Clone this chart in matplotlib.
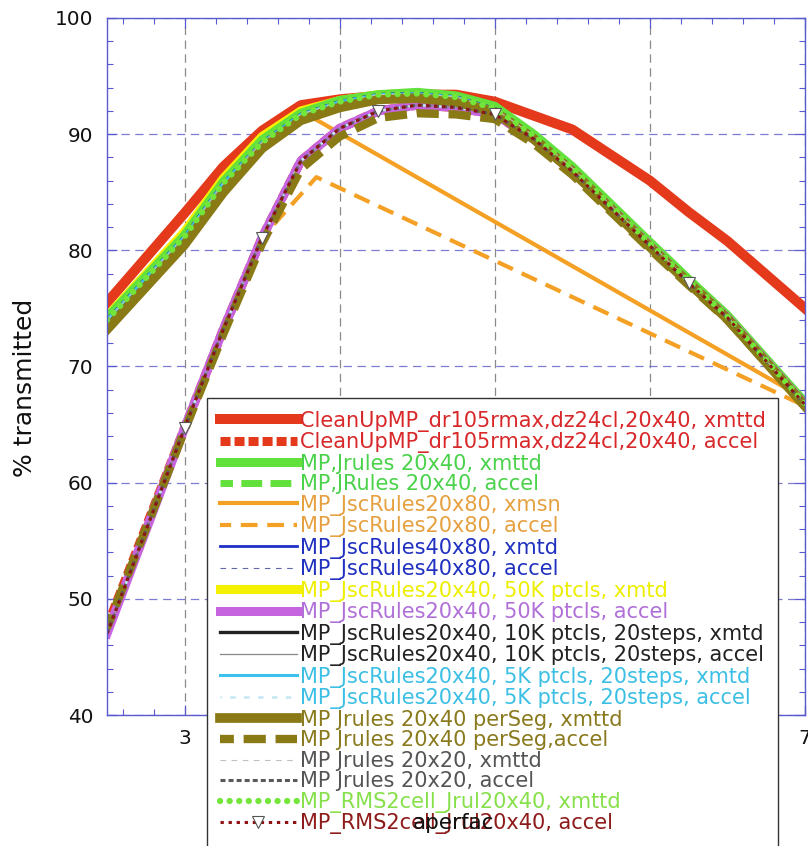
import matplotlib
matplotlib.use("Agg")
import matplotlib.pyplot as plt
from matplotlib.ticker import MultipleLocator

plt.rcParams['font.family'] = ['DejaVu Sans']
plt.rcParams['lines.scale_dashes'] = False

# ---------------- data ----------------
x_all = [2.5, 3.0, 3.25, 3.5, 3.75, 4.0, 4.25, 4.5, 4.75, 5.0, 5.25, 5.5, 6.0, 6.25, 6.5, 7.0]

cleanup_xmttd = [75.5, 83.2, 87.2, 90.3, 92.5, 93.0, 93.3, 93.4, 93.4, 92.8, 91.6, 90.4, 86.0, 83.3, 80.8, 75.0]
cleanup_accel = [47.6, 64.7, 73.2, 81.1, 87.7, 90.5, 92.0, 92.5, 92.3, 91.7, 89.6, 86.8, 80.4, 77.2, 74.2, 66.7]
jrules_xmttd = [74.2, 81.3, 85.9, 89.5, 91.8, 92.9, 93.4, 93.6, 93.3, 92.4, 90.0, 87.2, 80.7, 77.5, 74.4, 66.9]
k50_xmtd = [74.3, 81.6, 86.2, 89.8, 92.0, 92.9, 93.4, 93.5, 93.2, 92.3, 89.9, 87.1, 80.5, 77.3, 74.2, 66.7]
perseg_xmttd = [73.2, 80.5, 85.0, 88.8, 91.2, 92.3, 93.0, 93.1, 92.8, 91.9, 89.6, 86.8, 80.3, 77.2, 74.1, 66.6]
upper_xmttd = [74.0, 81.2, 85.8, 89.3, 91.7, 92.8, 93.4, 93.5, 93.2, 92.2, 89.9, 87.1, 80.6, 77.4, 74.3, 66.8]
lower_accel = [47.0, 64.7, 73.2, 81.1, 87.7, 90.5, 92.0, 92.5, 92.3, 91.7, 89.6, 86.8, 80.4, 77.2, 74.2, 66.7]
perseg_accel = [47.5, 64.5, 72.8, 80.6, 87.0, 89.8, 91.4, 91.8, 91.7, 91.3, 89.2, 86.5, 80.1, 77.0, 74.0, 66.6]

x_orange = [2.5, 3.0, 3.25, 3.5, 3.75, 7.0]
jsc2080_xmsn = [74.0, 81.2, 85.8, 89.3, 92.0, 67.2]
x_orange_acc = [2.5, 3.0, 3.25, 3.5, 3.85, 7.0]
jsc2080_accel = [47.0, 64.7, 73.2, 81.1, 86.3, 66.6]

rms_marker_idx = [1, 3, 6, 9, 13]

x_ticks = [3, 4, 5, 6, 7]
x_ticklabels = ["3", "", "", "", "7"]

labels = [
    "CleanUpMP_dr105rmax,dz24cl,20x40, xmttd",
    "CleanUpMP_dr105rmax,dz24cl,20x40, accel",
    "MP,Jrules 20x40, xmttd",
    "MP,JRules 20x40, accel",
    "MP_JscRules20x80, xmsn",
    "MP_JscRules20x80, accel",
    "MP_JscRules40x80, xmtd",
    "MP_JscRules40x80, accel",
    "MP_JscRules20x40, 50K ptcls, xmtd",
    "MP_JscRules20x40, 50K ptcls, accel",
    "MP_JscRules20x40, 10K ptcls, 20steps, xmtd",
    "MP_JscRules20x40, 10K ptcls, 20steps, accel",
    "MP_JscRules20x40, 5K ptcls, 20steps, xmtd",
    "MP_JscRules20x40, 5K ptcls, 20steps, accel",
    "MP Jrules 20x40 perSeg, xmttd",
    "MP Jrules 20x40 perSeg,accel",
    "MP Jrules 20x20, xmttd",
    "MP Jrules 20x20, accel",
    "MP_RMS2cell_Jrul20x40, xmttd",
    "MP_RMS2cell_Jrul20x40, accel",
]
text_colors = ["#d8282a", "#d8282a", "#4ad24a", "#4ad24a", "#e6a040", "#e6a040",
               "#2030c0", "#2030c0", "#eeee00", "#b070d8", "#222222", "#222222",
               "#3cbfe4", "#3cbfe4", "#8a7a1e", "#8a7a1e", "#555555", "#555555",
               "#86e04a", "#8e1a1a"]

# ---------------- figure ----------------
W, H = 808, 846
fig = plt.figure(figsize=(W / 100, H / 100), dpi=100)
ax = fig.add_axes([107 / W, 1 - 715 / H, (805 - 107) / W, (715 - 18) / H])

red = "#e4391b"
green = "#62e03c"
orange = "#f4a024"
blue = "#1f2fc8"
yellow = "#f4f000"
purple = "#c664e0"
cyan = "#3cc0ec"
olive = "#8a7a16"
rmsgreen = "#74e63a"
darkred = "#8e1414"

h = []
h += ax.plot(x_all, cleanup_xmttd, color=red, lw=7.2, zorder=1.7)
h += ax.plot(x_all, cleanup_accel, color=red, lw=6.5, ls=(0, (7.2, 2.9)), dash_capstyle='butt', zorder=1.7)
h += ax.plot(x_all, jrules_xmttd, color=green, lw=6.5)
h += ax.plot(x_all, lower_accel, color=green, lw=5, ls=(6, (15, 6)))
h += ax.plot(x_orange, jsc2080_xmsn, color=orange, lw=3, zorder=1.9)
h += ax.plot(x_orange_acc, jsc2080_accel, color=orange, lw=3, ls=(4, (12, 7)), zorder=1.9)
h += ax.plot(x_all, upper_xmttd, color=blue, lw=2)
h += ax.plot(x_all, lower_accel, color="#6068a8", lw=0.8, ls=(0, (4, 4)))
h += ax.plot(x_all, k50_xmtd, color=yellow, lw=6.5, zorder=1.8)
h += ax.plot(x_all, lower_accel, color=purple, lw=6.5)
h += ax.plot(x_all, upper_xmttd, color="#222222", lw=2.4)
h += ax.plot(x_all, lower_accel, color="#888888", lw=0.9)
h += ax.plot(x_all, upper_xmttd, color=cyan, lw=2.2)
h += ax.plot(x_all, lower_accel, color="#c4e8f2", lw=1.8, ls=(3, (4, 6)))
h += ax.plot(x_all, perseg_xmttd, color=olive, lw=7)
h += ax.plot(x_all, perseg_accel, color=olive, lw=6, ls=(6, (16, 7)), dash_capstyle='butt')
h += ax.plot(x_all, upper_xmttd, color="#c0c0c0", lw=0.8, ls=(0, (4, 4)))
h += ax.plot(x_all, lower_accel, color="#5a5a5a", lw=2.2, ls=(0, (3.6, 2.2)))
h += ax.plot(x_all, upper_xmttd, color=rmsgreen, lw=4.5, ls=(0, (0.1, 6.8)), dash_capstyle='round')
h += ax.plot(x_all, lower_accel, color=darkred, lw=2.2, ls=(0, (2.4, 3.4)),
             marker='v', markevery=rms_marker_idx, markersize=8,
             markerfacecolor='white', markeredgecolor='#555555', markeredgewidth=0.8)

# ---------------- axes styling ----------------
ax.set_xlim(2.5, 7.0)
ax.set_ylim(40, 100)
ax.set_xticks(x_ticks, x_ticklabels)
ax.xaxis.set_minor_locator(MultipleLocator(0.2))
ax.yaxis.set_major_locator(MultipleLocator(10))
ax.yaxis.set_minor_locator(MultipleLocator(2))

frame = "#5a5ad0"
for s in ax.spines.values():
    s.set_color(frame)
    s.set_linewidth(1.0)
ax.tick_params(which='both', direction='in', top=True, right=True, colors=frame,
               labelcolor='#111111', labelsize=14.4)
ax.tick_params(which='major', length=7, width=0.9, pad=10)
ax.tick_params(which='minor', length=4.5, width=0.8)

ax.xaxis.grid(True, which='major', color='#8a8a8a', lw=0.9, ls=(0, (6, 4)))
ax.yaxis.grid(True, which='major', color='#7c7cd4', lw=0.9, ls=(0, (6, 4)))
ax.set_axisbelow(True)

ax.set_ylabel("% transmitted", fontsize=18, color='#111111')
ax.yaxis.set_label_coords(-0.1, 0.47)

leg = ax.legend(h, labels, loc='upper left',
                bbox_to_anchor=(207 / W, 1 - 398 / H), bbox_transform=fig.transFigure,
                borderaxespad=0, fontsize=15, handlelength=3.7, handletextpad=0.15,
                labelspacing=0.025, borderpad=0.6, fancybox=False, framealpha=1,
                edgecolor='#333333', labelcolor=text_colors)
leg.get_frame().set_linewidth(1.0)

ax.text(0.497, -0.155, "aperfac", transform=ax.transAxes, ha='center', va='center',
        fontsize=15.5, color='#111111', zorder=10)

fig.savefig("out.png", dpi=100)
